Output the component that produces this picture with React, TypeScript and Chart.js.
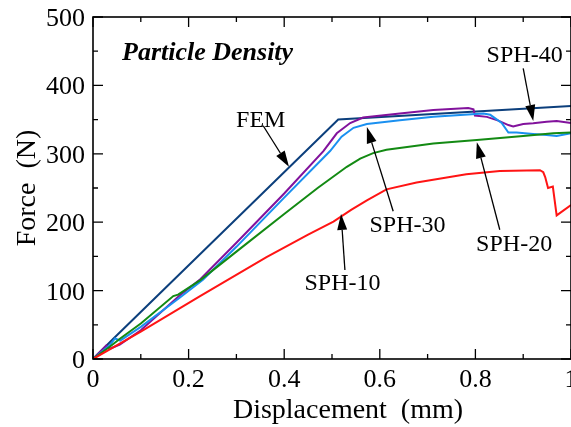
import { useEffect, useRef } from "react";
import { Chart, registerables } from "chart.js";

Chart.register(...registerables);

// Force–displacement curves (displacement in mm, force in N)
const femDisp = [0, 0.043, 0.513, 1.0];
const femForce = [0, 30, 350, 370];

const sph40Disp = [0, 0.028, 0.035, 0.056, 0.1, 0.18, 0.225, 0.3, 0.4, 0.482, 0.51, 0.538, 0.565, 0.642, 0.712, 0.785, 0.796, 0.799, 0.824, 0.848, 0.869, 0.879, 0.9, 0.921, 0.949, 0.97, 1.0];
const sph40Force = [0, 20, 15, 21, 42, 92, 117, 170, 242, 304, 330, 345, 353, 359, 364, 367, 365, 356, 354, 348.5, 342, 340, 343.6, 344.6, 347, 348, 345];

const sph30Disp = [0, 0.035, 0.046, 0.057, 0.1, 0.182, 0.23, 0.3, 0.4, 0.496, 0.52, 0.545, 0.573, 0.642, 0.712, 0.817, 0.831, 0.855, 0.869, 0.886, 0.921, 0.949, 0.97, 1.0];
const sph30Force = [0, 20, 30, 27, 47, 90, 116, 164, 236, 304, 325, 338, 343.6, 349, 354, 359, 357, 345, 331, 331, 329, 327.5, 326, 330];

const sph20Disp = [0, 0.035, 0.057, 0.1, 0.168, 0.178, 0.224, 0.3, 0.4, 0.47, 0.531, 0.559, 0.586, 0.614, 0.712, 0.803, 0.9, 0.963, 1.0];
const sph20Force = [0, 18, 30, 52, 92, 94, 115, 157, 212, 250, 281, 293, 301, 306, 315, 320, 326, 330, 331];

const sph10Disp = [0, 0.1, 0.224, 0.363, 0.45, 0.503, 0.54, 0.573, 0.614, 0.677, 0.781, 0.851, 0.935, 0.942, 0.946, 0.952, 0.962, 0.97, 1.0];
const sph10Force = [0, 40, 92, 149, 182, 201, 218, 232, 248, 258, 270, 275, 276, 273, 266, 250, 252, 210, 225];

// Axis ticks
const xMajorTicks = [0, 0.2, 0.4, 0.6, 0.8, 1];
const xTickLabels = ["0", "0.2", "0.4", "0.6", "0.8", "1"];
const xMinorTicks = [0.1, 0.3, 0.5, 0.7, 0.9];
const yMajorTicks = [0, 100, 200, 300, 400, 500];
const yTickLabels = ["0", "100", "200", "300", "400", "500"];
const yMinorTicks = [50, 150, 250, 350, 450];

// Curve labels with the arrows pointing at their curves (data coordinates)
const labelTexts = ["FEM", "SPH-40", "SPH-30", "SPH-20", "SPH-10"];
const labelAt = [[0.351, 350], [0.903, 445], [0.658, 197], [0.881, 168], [0.522, 111]];
const arrowFrom = [[0.356, 341], [0.9, 425], [0.628, 216], [0.851, 189], [0.527, 130]];
const arrowTo = [[0.41, 281], [0.921, 348], [0.573, 339], [0.803, 317], [0.519, 212]];

const SERIF = '"Liberation Serif", "Times New Roman", serif';

const toPoints = (xs: number[], ys: number[]) => xs.map((x, i) => ({ x, y: ys[i] }));

const framePlugin = {
  id: "frameAndNotes",
  afterDatasetsDraw(chart: any) {
    const ctx: CanvasRenderingContext2D = chart.ctx;
    const xs = chart.scales.x;
    const ys = chart.scales.y;
    const { left, right, top, bottom } = chart.chartArea;
    ctx.save();

    // frame
    ctx.strokeStyle = "#000";
    ctx.lineWidth = 1.6;
    ctx.strokeRect(left, top, right - left, bottom - top);

    // inward ticks on all four sides
    const major = 10;
    const minor = 5;
    ctx.lineWidth = 1.3;
    ctx.beginPath();
    const xTick = (v: number, len: number) => {
      const px = xs.getPixelForValue(v);
      ctx.moveTo(px, bottom);
      ctx.lineTo(px, bottom - len);
      ctx.moveTo(px, top);
      ctx.lineTo(px, top + len);
    };
    const yTick = (v: number, len: number) => {
      const py = ys.getPixelForValue(v);
      ctx.moveTo(left, py);
      ctx.lineTo(left + len, py);
      ctx.moveTo(right, py);
      ctx.lineTo(right - len, py);
    };
    xMajorTicks.forEach((v) => xTick(v, major));
    xMinorTicks.forEach((v) => xTick(v, minor));
    yMajorTicks.forEach((v) => yTick(v, major));
    yMinorTicks.forEach((v) => yTick(v, minor));
    ctx.stroke();

    // tick labels
    ctx.fillStyle = "#000";
    ctx.font = `26px ${SERIF}`;
    ctx.textBaseline = "alphabetic";
    ctx.textAlign = "center";
    xMajorTicks.forEach((v, i) => {
      ctx.fillText(xTickLabels[i], xs.getPixelForValue(v), bottom + 28);
    });
    ctx.textAlign = "right";
    yMajorTicks.forEach((v, i) => {
      ctx.fillText(yTickLabels[i], left - 8, ys.getPixelForValue(v) + 9);
    });

    // axis titles
    ctx.font = `28px ${SERIF}`;
    ctx.textAlign = "center";
    ctx.fillText("Displacement  (mm)", left + 255, bottom + 59);
    ctx.save();
    ctx.translate(left - 58, top + 171);
    ctx.rotate(-Math.PI / 2);
    ctx.fillText("Force  (N)", 0, 0);
    ctx.restore();

    // panel title
    ctx.font = `italic bold 26px ${SERIF}`;
    ctx.textAlign = "left";
    ctx.fillText("Particle Density", left + 29, top + 43);

    // curve labels and arrows
    ctx.font = `24px ${SERIF}`;
    ctx.textAlign = "center";
    ctx.textBaseline = "middle";
    labelTexts.forEach((t, i) => {
      ctx.fillText(t, xs.getPixelForValue(labelAt[i][0]), ys.getPixelForValue(labelAt[i][1]) + 1);
      const x0 = xs.getPixelForValue(arrowFrom[i][0]);
      const y0 = ys.getPixelForValue(arrowFrom[i][1]);
      const x1 = xs.getPixelForValue(arrowTo[i][0]);
      const y1 = ys.getPixelForValue(arrowTo[i][1]);
      const ang = Math.atan2(y1 - y0, x1 - x0);
      const headLen = 16;
      const headHalf = 5;
      const bx = x1 - headLen * Math.cos(ang);
      const by = y1 - headLen * Math.sin(ang);
      ctx.lineWidth = 1.3;
      ctx.beginPath();
      ctx.moveTo(x0, y0);
      ctx.lineTo(bx, by);
      ctx.stroke();
      ctx.beginPath();
      ctx.moveTo(x1, y1);
      ctx.lineTo(bx + headHalf * Math.sin(ang), by - headHalf * Math.cos(ang));
      ctx.lineTo(bx - headHalf * Math.sin(ang), by + headHalf * Math.cos(ang));
      ctx.closePath();
      ctx.fill();
    });

    ctx.restore();
  },
};

export default function App() {
  const canvasRef = useRef<HTMLCanvasElement | null>(null);

  useEffect(() => {
    const canvas = canvasRef.current;
    if (!canvas) return;
    const line = (label: string, xs: number[], ys: number[], color: string) => ({
      label,
      data: toPoints(xs, ys),
      borderColor: color,
      backgroundColor: color,
      borderWidth: 2,
      pointRadius: 0,
      tension: 0,
      fill: false,
    });
    const hiddenAxis = {
      type: "linear" as const,
      ticks: { display: false },
      grid: { display: false, drawTicks: false, tickLength: 0 },
      border: { display: false },
    };
    const chart = new Chart(canvas, {
      type: "line",
      data: {
        datasets: [
          line("SPH-10", sph10Disp, sph10Force, "#ff1414"),
          line("SPH-20", sph20Disp, sph20Force, "#138a13"),
          line("SPH-30", sph30Disp, sph30Force, "#1a90f0"),
          line("SPH-40", sph40Disp, sph40Force, "#82129c"),
          line("FEM", femDisp, femForce, "#0c3f7c"),
        ],
      },
      options: {
        responsive: false,
        animation: false,
        devicePixelRatio: 1,
        layout: { padding: { left: 93, right: 19, top: 17, bottom: 68 } },
        plugins: { legend: { display: false }, tooltip: { enabled: false } },
        scales: {
          x: { ...hiddenAxis, min: 0, max: 1 },
          y: { ...hiddenAxis, min: 0, max: 500 },
        },
      },
      plugins: [framePlugin],
    });
    return () => chart.destroy();
  }, []);

  return (
    <div style={{ position: "fixed", left: 0, top: 0, width: 590, height: 427, background: "#fff" }}>
      <canvas ref={canvasRef} width={590} height={427} style={{ display: "block" }} />
    </div>
  );
}
